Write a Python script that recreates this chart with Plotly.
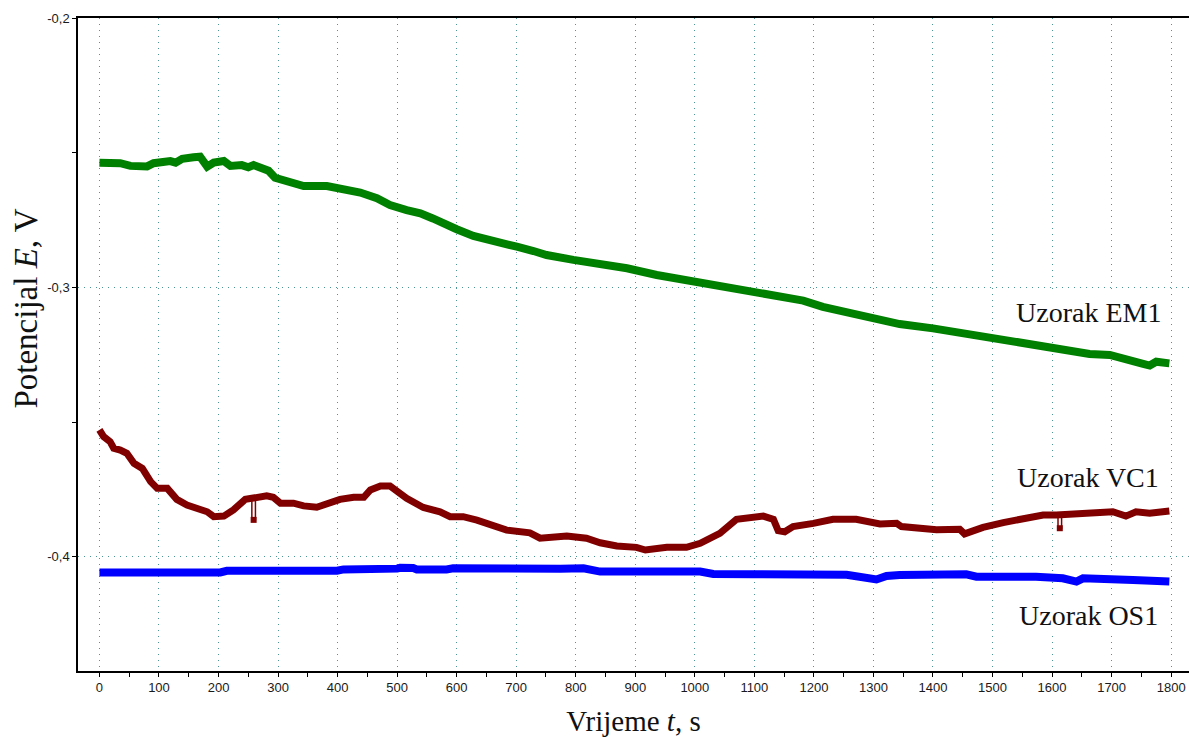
import plotly.graph_objects as go

# Open-circuit potential vs time for three samples
t_em1 = [0, 18, 35, 52, 63, 80, 91, 102, 119, 128, 139, 158, 169, 181, 192, 209, 220, 239, 250, 259,
         270, 284, 295, 315, 343, 382, 404, 438, 466, 488, 516, 539, 560, 589, 600, 628, 667, 701,
         729, 751, 796, 841, 886, 936, 980, 1009, 1064, 1098, 1165, 1182, 1215, 1249, 1305, 1344,
         1400, 1456, 1495, 1551, 1607, 1663, 1697, 1730, 1753, 1764, 1775, 1797]
e_em1 = [-0.2537, -0.2537, -0.2539, -0.2549, -0.2551, -0.2551, -0.2539, -0.2533, -0.2531, -0.2537,
         -0.2523, -0.2517, -0.2515, -0.2552, -0.2537, -0.2531, -0.2549, -0.2546, -0.2554, -0.2546,
         -0.2556, -0.2567, -0.2593, -0.2605, -0.2624, -0.2624, -0.2632, -0.2648, -0.2669, -0.2694,
         -0.2713, -0.2725, -0.2744, -0.2777, -0.2784, -0.2809, -0.2834, -0.2849, -0.2865, -0.2880,
         -0.2898, -0.2913, -0.2929, -0.2954, -0.2970, -0.2983, -0.3007, -0.3016, -0.3040, -0.3049,
         -0.3072, -0.3090, -0.3115, -0.3136, -0.3152, -0.3173, -0.3189, -0.3211, -0.3232, -0.3247,
         -0.3251, -0.3266, -0.3284, -0.3290, -0.3276, -0.3282]

t_vc1 = [0, 7, 18, 24, 35, 46, 58, 72, 86, 97, 114, 122, 130, 147, 164, 181, 192, 209, 225, 237,
         245, 256, 270, 281, 292, 304, 326, 343, 365, 382, 404, 427, 444, 455, 472, 488, 505, 516,
         544, 572, 589, 611, 634, 651, 684, 723, 740, 785, 818, 841, 869, 902, 917, 953, 986, 1009,
         1042, 1070, 1098, 1115, 1132, 1140, 1151, 1165, 1199, 1232, 1271, 1299, 1311, 1339, 1347,
         1406, 1417, 1445, 1453, 1484, 1518, 1551, 1585, 1607, 1652, 1702, 1724, 1741, 1764, 1797]
e_vc1 = [-0.3529, -0.3554, -0.3573, -0.3597, -0.3604, -0.3616, -0.3653, -0.3672, -0.3721, -0.3746,
         -0.3746, -0.3771, -0.3787, -0.3808, -0.3820, -0.3833, -0.3851, -0.3849, -0.3826, -0.3801,
         -0.3787, -0.3783, -0.3779, -0.3774, -0.3779, -0.3801, -0.3801, -0.3811, -0.3816, -0.3801,
         -0.3787, -0.3779, -0.3779, -0.3752, -0.3737, -0.3737, -0.3764, -0.3783, -0.3817, -0.3833,
         -0.3851, -0.3851, -0.3864, -0.3876, -0.3901, -0.3911, -0.3931, -0.3923, -0.3931, -0.3948,
         -0.3960, -0.3965, -0.3975, -0.3965, -0.3965, -0.3950, -0.3913, -0.3861, -0.3857, -0.3849,
         -0.3861, -0.3903, -0.3907, -0.3888, -0.3876, -0.3861, -0.3861, -0.3870, -0.3878, -0.3876,
         -0.3888, -0.3900, -0.3898, -0.3898, -0.3915, -0.3891, -0.3873, -0.3861, -0.3845, -0.3845,
         -0.3841, -0.3833, -0.3849, -0.3833, -0.3838, -0.3830]

# short transient drops in the VC1 record
spike_t = [259, 1613]
spike_top = [-0.3781, -0.3845]
spike_low = [-0.3863, -0.3894]

t_os1 = [0, 80, 102, 119, 203, 214, 399, 410, 500, 505, 527, 533, 583, 594, 774, 813, 841, 1009,
         1031, 1064, 1098, 1255, 1288, 1305, 1322, 1344, 1456, 1473, 1573, 1618, 1641, 1652, 1736, 1797]
e_os1 = [-0.4058, -0.4055, -0.4053, -0.4058, -0.4058, -0.4052, -0.4052, -0.4047, -0.4044, -0.4041,
         -0.4042, -0.4047, -0.4047, -0.4043, -0.4044, -0.4043, -0.4055, -0.4055, -0.4064, -0.4067,
         -0.4065, -0.4067, -0.4074, -0.4084, -0.4071, -0.4068, -0.4065, -0.4074, -0.4074, -0.4080,
         -0.4092, -0.4080, -0.4086, -0.4092]

labels = ["Uzorak EM1", "Uzorak VC1", "Uzorak OS1"]
label_t = [1661, 1661, 1661]
label_e = [-0.3095, -0.3707, -0.4218]

x_ticks = list(range(0, 1801, 100))
y_ticks = [-0.2, -0.3, -0.4]
y_ticktext = ["-0,2", "-0,3", "-0,4"]

GREEN = "#008000"
RED = "#800000"
BLUE = "#0000ff"

fig = go.Figure()

fig.add_trace(go.Scatter(x=t_em1, y=e_em1, mode="lines",
                         line=dict(color=GREEN, width=8), showlegend=False))

# thin drop lines with a square at the bottom
sx, sy = [], []
for t, top, low in zip(spike_t, spike_top, spike_low):
    sx += [t - 3, t - 3, t + 3, t + 3, None]
    sy += [top, low, low, top, None]
fig.add_trace(go.Scatter(x=sx, y=sy, mode="lines",
                         line=dict(color=RED, width=1.5), showlegend=False))
fig.add_trace(go.Scatter(x=spike_t, y=spike_low, mode="markers",
                         marker=dict(color=RED, size=6, symbol="square"), showlegend=False))

fig.add_trace(go.Scatter(x=t_vc1, y=e_vc1, mode="lines",
                         line=dict(color=RED, width=7), showlegend=False))
fig.add_trace(go.Scatter(x=t_os1, y=e_os1, mode="lines",
                         line=dict(color=BLUE, width=8), showlegend=False))

for txt, tx, ty in zip(labels, label_t, label_e):
    fig.add_annotation(x=tx, y=ty, xref="x", yref="y", text=txt, showarrow=False,
                       font=dict(family="Liberation Serif", size=28, color="#111111"),
                       bgcolor="white", borderpad=3)

# vertical axis title
fig.add_annotation(x=0, y=0.555, xref="paper", yref="paper", xshift=-52,
                   xanchor="center", yanchor="middle",
                   text="Potencijal <i>E</i>, V", textangle=-90, showarrow=False,
                   font=dict(family="Liberation Serif", size=33, color="#111111"))

grid = dict(showgrid=True, gridcolor="#4d9494", gridwidth=1, griddash="1px,5px")

fig.update_xaxes(
    range=[-36, 1830], tickvals=x_ticks, ticks="outside", ticklen=4, tickcolor="black",
    minor=dict(dtick=50, tick0=0, ticks="outside", ticklen=4, tickcolor="black", showgrid=False),
    showline=True, linecolor="black", linewidth=1.5, mirror=True, zeroline=False,
    tickfont=dict(family="Liberation Sans", size=13, color="#1a1a1a"),
    title=dict(text="Vrijeme <i>t</i>, s", standoff=19,
               font=dict(family="Liberation Serif", size=29, color="#111111")),
    **grid)

fig.update_yaxes(
    range=[-0.4424, -0.2], tickvals=y_ticks, ticktext=y_ticktext, ticks="outside", ticklen=4,
    tickcolor="black",
    minor=dict(dtick=0.05, tick0=-0.2, ticks="outside", ticklen=4, tickcolor="black", showgrid=False),
    showline=True, linecolor="black", linewidth=1.5, mirror=True, zeroline=False,
    tickfont=dict(family="Liberation Sans", size=13, color="#1a1a1a"),
    **grid)

fig.update_layout(
    width=1189, height=737,
    margin=dict(l=78, r=0, t=18, b=66, autoexpand=False),
    plot_bgcolor="white", paper_bgcolor="white",
)

fig.write_html("out.html")
